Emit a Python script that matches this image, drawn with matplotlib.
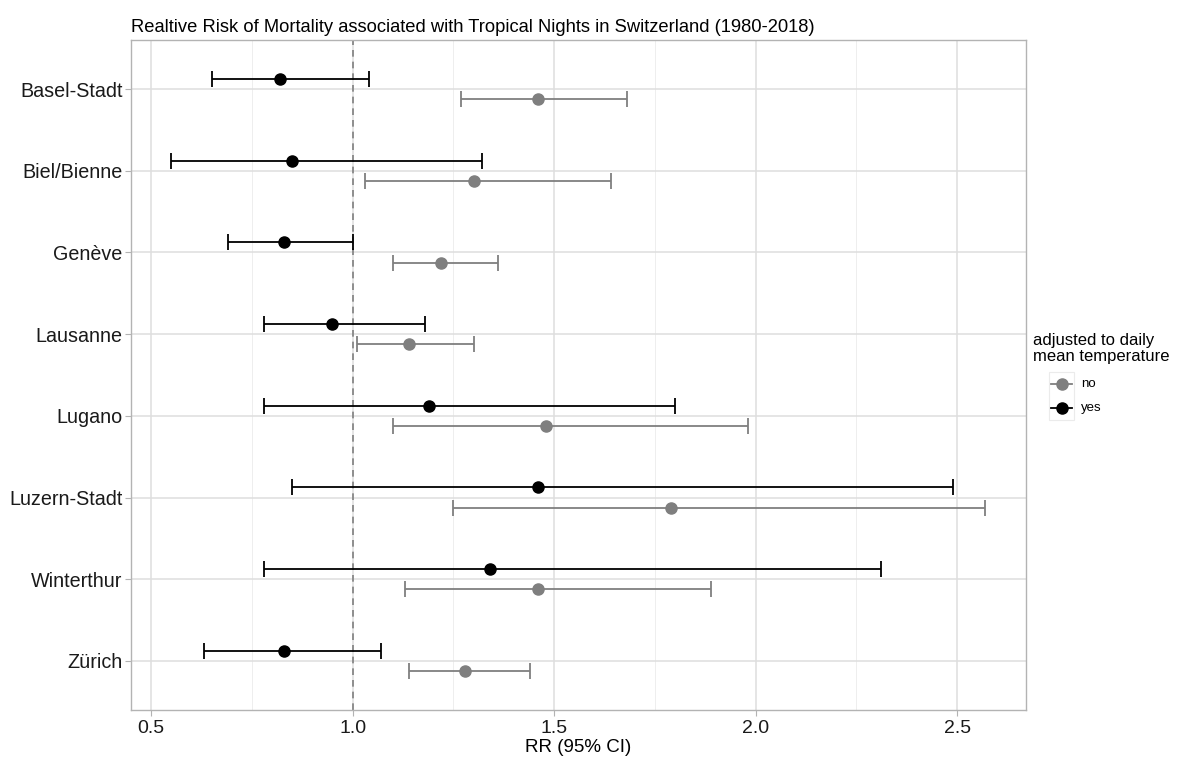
import numpy as np
import matplotlib
matplotlib.use("Agg")
import matplotlib.pyplot as plt
from matplotlib.lines import Line2D
from matplotlib.patches import Rectangle

plt.rcParams['font.family'] = ['Liberation Sans', 'DejaVu Sans']

cities = ["Basel-Stadt", "Biel/Bienne", "Genève", "Lausanne",
          "Lugano", "Luzern-Stadt", "Winterthur", "Zürich"]

# adjusted to daily mean temperature = yes
rr_yes = [0.82, 0.85, 0.83, 0.95, 1.19, 1.46, 1.34, 0.83]
lo_yes = [0.65, 0.55, 0.69, 0.78, 0.78, 0.85, 0.78, 0.63]
hi_yes = [1.04, 1.32, 1.00, 1.18, 1.80, 2.49, 2.31, 1.07]

# adjusted = no
rr_no = [1.46, 1.30, 1.22, 1.14, 1.48, 1.79, 1.46, 1.28]
lo_no = [1.27, 1.03, 1.10, 1.01, 1.10, 1.25, 1.13, 1.14]
hi_no = [1.68, 1.64, 1.36, 1.30, 1.98, 2.57, 1.89, 1.44]

legend_labels = ["no", "yes"]

W, H = 1180, 760
fig = plt.figure(figsize=(W / 100, H / 100), dpi=100)
ax = fig.add_axes([131 / W, 1 - 710 / H, (1026 - 131) / W, (710 - 40) / H])

y = np.arange(len(cities))[::-1].astype(float)
dodge = 0.125
grey = "#7f7f7f"
colors = [grey, "black"]

for vals, lo, hi, off, col in [(rr_no, lo_no, hi_no, -dodge, grey),
                               (rr_yes, lo_yes, hi_yes, dodge, "black")]:
    vals = np.array(vals)
    err = [vals - np.array(lo), np.array(hi) - vals]
    ax.errorbar(vals, y + off, xerr=err, fmt='o', color=col, ecolor=col,
                markersize=8, elinewidth=1.3, capsize=6, capthick=1.3, zorder=3)

ax.axvline(1.0, color=grey, linestyle=(0, (4, 3)), linewidth=1.2, zorder=2)

ax.set_xlim(0.45, 2.671)
ax.set_ylim(-0.6, len(cities) - 0.4)
ax.set_xticks([0.5, 1.0, 1.5, 2.0, 2.5])
ax.set_xticklabels(["0.5", "1.0", "1.5", "2.0", "2.5"])
ax.set_xticks([0.75, 1.25, 1.75, 2.25], minor=True)
ax.set_yticks(y)
ax.set_yticklabels(cities)

ax.grid(which='major', color="#dedede", linewidth=1.1, zorder=0)
ax.grid(which='minor', axis='x', color="#ebebeb", linewidth=0.6, zorder=0)
ax.set_axisbelow(True)
for s in ax.spines.values():
    s.set_color("#b3b3b3")
    s.set_linewidth(1.0)

ax.tick_params(axis='both', which='major', length=4, color="#b3b3b3")
ax.tick_params(axis='both', which='minor', length=0)
ax.tick_params(axis='y', labelsize=14.2, labelcolor="#1a1a1a", pad=2)
ax.tick_params(axis='x', labelsize=14, labelcolor="#1a1a1a", pad=3)
ax.set_xlabel("RR (95% CI)", fontsize=13.5, color="black", labelpad=2)

ax.set_title("Realtive Risk of Mortality associated with Tropical Nights in Switzerland (1980-2018)",
             loc='left', fontsize=13.2, pad=6)

# legend drawn by hand, ggplot style
fig.text(1033 / W, 1 - 333 / H, "adjusted to daily\nmean temperature",
         fontsize=12.0, va='top', ha='left', linespacing=1.12)
fig.add_artist(Rectangle((1049 / W, 1 - 420 / H), 25 / W, 48 / H,
                         transform=fig.transFigure, facecolor="white",
                         edgecolor="#ebebeb", linewidth=0.8))
for i, (lab, col) in enumerate(zip(legend_labels, colors)):
    yy = 1 - (384 + 24 * i) / H
    fig.add_artist(Line2D([1051 / W, 1072 / W], [yy, yy], transform=fig.transFigure,
                          color=col, linewidth=1.3))
    fig.add_artist(Line2D([1061.5 / W], [yy], transform=fig.transFigure, color=col,
                          marker='o', markersize=8, linestyle='none'))
    fig.text(1081 / W, yy, lab, fontsize=9.5, va='center', ha='left')

fig.savefig("out.png", dpi=100)
